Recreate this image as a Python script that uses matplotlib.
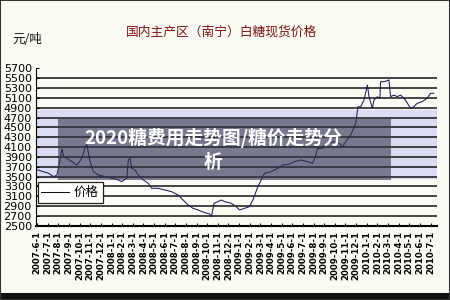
import matplotlib
matplotlib.use("Agg")
import matplotlib.pyplot as plt
from matplotlib.patches import Rectangle

plt.rcParams['font.family'] = ['Noto Sans CJK SC', 'DejaVu Sans']

# month offset from 2007-6-1, price (yuan/ton)
month_pos = [0.0, 1.09, 1.56, 1.87, 2.03, 2.34, 2.50, 2.81, 3.28, 3.75, 4.21, 4.53,
             4.68, 4.99, 5.30, 5.77, 6.40, 7.02, 7.65, 7.96, 8.43, 8.58, 8.74, 8.90,
             9.21, 9.52, 9.99, 10.46, 10.77, 11.39, 12.02, 12.64, 13.26, 13.73, 14.20,
             14.67, 15.14, 15.76, 16.23, 16.39, 16.64, 17.01, 17.32, 17.63, 18.26,
             18.73, 19.04, 19.51, 19.97, 20.29, 20.76, 21.07, 21.38, 22.00, 22.63,
             23.10, 23.72, 24.19, 24.81, 25.44, 25.91, 26.22, 26.38, 26.84, 27.00,
             27.46, 27.93, 28.40, 28.71, 29.03, 29.49, 29.96, 30.18, 30.43, 30.74,
             31.06, 31.21, 31.53, 31.68, 32.00, 32.24, 32.30, 32.62, 32.93, 33.08,
             33.24, 33.55, 33.86, 34.18, 34.64, 35.11, 35.42, 35.74, 36.21, 36.67,
             36.99, 37.30]
price = [3640, 3566, 3497, 3530, 3700, 4060, 3905, 3870, 3803, 3735, 3870, 4108,
         4150, 3803, 3600, 3532, 3498, 3465, 3430, 3397, 3465, 3837, 3870, 3668,
         3634, 3532, 3430, 3363, 3261, 3261, 3227, 3193, 3125, 3023, 2921,
         2854, 2820, 2765, 2738, 2683, 2956, 2990, 3023, 2990, 2956,
         2888, 2820, 2854, 2888, 3023, 3294, 3430, 3566, 3600, 3668,
         3735, 3755, 3803, 3837, 3803, 3770, 3939, 4075, 4075, 4143,
         4176, 4210, 4176, 4108, 4210, 4346, 4584, 4922, 4922, 5058,
         5364, 5126, 4890, 5058, 5126, 5092, 5431, 5431, 5452, 5470,
         5126, 5160, 5126, 5160, 5058, 4890, 4922, 4990, 5024, 5092,
         5194, 5194]

y_ticks = list(range(2500, 5701, 200))
x_labels = []
for i in range(38):
    y = 2007 + (5 + i) // 12
    m = (5 + i) % 12 + 1
    x_labels.append(f"{y}-{m}-1")

title = "国内主产区（南宁）白糖现货价格"
unit = "元/吨"
overlay_text = "2020糖费用走势图/糖价走势分\n析"

bg = '#fbfbf4'
fig = plt.figure(figsize=(4.5, 3), dpi=100, facecolor=bg)
ax = fig.add_axes([0.08, 0.2477, 0.891, 0.524])
ax.set_facecolor(bg)

ax.axhspan(3470, 4860, color='#dcdcf4', zorder=0)
for v in y_ticks[1:-1]:
    ax.axhline(v, color='#151515', lw=1.1, zorder=1)

ax.plot(month_pos, price, color='#1c1c5c', lw=0.75, zorder=3, label='价格')

ax.set_xlim(-0.1, 37.6)
ax.set_ylim(2500, 5700)
ax.set_yticks(y_ticks)
ax.set_yticklabels([str(v) for v in y_ticks], fontsize=8, family='DejaVu Sans')
ax.set_xticks(range(38))
ax.set_xticklabels(x_labels, rotation=90, fontsize=6.2, fontweight='bold',
                   family='DejaVu Sans')
ax.tick_params(axis='y', length=2, pad=3, direction='in')
ax.tick_params(axis='x', length=2, pad=4, direction='in')
for s in ['top', 'right']:
    ax.spines[s].set_visible(False)
ax.spines['bottom'].set_linewidth(1.5)
ax.spines['left'].set_linewidth(0.8)

leg = ax.legend(loc='upper left', bbox_to_anchor=(0.004, 0.275), fontsize=9,
                frameon=True, fancybox=False, handlelength=2.2,
                borderpad=0.3, handletextpad=0.4, borderaxespad=0)
leg.get_frame().set_edgecolor('#222222')
leg.get_frame().set_linewidth(0.9)
leg.get_frame().set_facecolor('white')
leg.get_frame().set_alpha(1)
for line in leg.get_lines():
    line.set_color('#111111')

fig.text(0.493, 0.893, title, fontsize=9.2, color='#7a1515', ha='center', va='center')
fig.text(0.027, 0.867, unit, fontsize=9, color='#111111', ha='left', va='center')

# caption overlay
fig.patches.append(Rectangle((58 / 450, 1 - 180 / 300), 333 / 450, 61 / 300,
                             transform=fig.transFigure, facecolor='#35354a',
                             alpha=0.6, edgecolor='none', zorder=5))
fig.text(213 / 450, 1 - 150 / 300, overlay_text, fontsize=13.5, fontweight='bold',
         color='white', ha='center', va='center', linespacing=1.35, zorder=6)

# picture frame
fig.patches.append(Rectangle((0, 0), 1, 7 / 300, transform=fig.transFigure,
                             facecolor='#111111', edgecolor='none', zorder=7))
fig.patches.append(Rectangle((0, 0), 1, 1, transform=fig.transFigure,
                             facecolor='none', edgecolor='#333333', lw=1.5, zorder=7))

fig.savefig('out.png', dpi=100, facecolor=bg)
